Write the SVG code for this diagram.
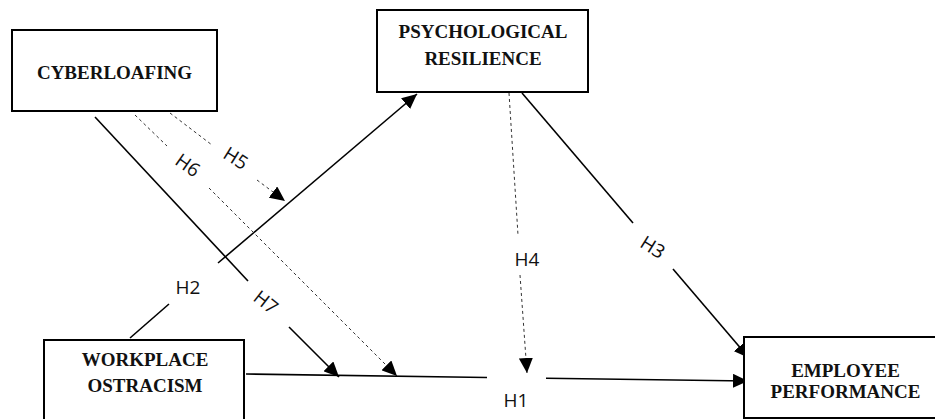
<svg xmlns="http://www.w3.org/2000/svg" width="935" height="419" viewBox="0 0 935 419">
<style>
.box{fill:#fff;stroke:#000;stroke-width:2}
.nt{font-family:"Liberation Serif","Times New Roman",serif;font-weight:bold;font-size:19px;fill:#111;text-anchor:middle}
.sl{stroke:#000;stroke-width:1.6;fill:none}
.dl{stroke:#333;stroke-width:1;stroke-dasharray:3,3;fill:none}
.lb{font-family:"Open Sans","DejaVu Sans",sans-serif;font-size:19px;fill:#111;text-anchor:middle;dominant-baseline:central}
</style>
<defs>
<marker id="ah" markerUnits="userSpaceOnUse" markerWidth="16" markerHeight="14" refX="15" refY="7" orient="auto">
<path d="M0,0 L15,7 L0,14 Z" fill="#000"/>
</marker>
</defs>
<rect width="935" height="419" fill="#fff"/>
<g id="connectors">
<!-- H1 -->
<line class="sl" x1="246" y1="374" x2="487" y2="377.5"/>
<line class="sl" x1="546" y1="378.3" x2="748" y2="381" marker-end="url(#ah)"/>
<text class="lb" x="516" y="400">H1</text>
<!-- H2 -->
<line class="sl" x1="130" y1="338" x2="169" y2="304"/>
<line class="sl" x1="218" y1="263" x2="417" y2="94" marker-end="url(#ah)"/>
<text class="lb" x="188" y="287">H2</text>
<!-- H3 -->
<line class="sl" x1="522" y1="93" x2="633" y2="223"/>
<line class="sl" x1="673" y1="269" x2="749" y2="358" marker-end="url(#ah)"/>
<text class="lb" transform="translate(653,247) rotate(32)">H3</text>
<!-- H4 -->
<line class="dl" x1="509" y1="93" x2="518" y2="235"/>
<line class="dl" x1="520" y1="275" x2="527" y2="373" marker-end="url(#ah)"/>
<text class="lb" x="527" y="259">H4</text>
<!-- H5 -->
<line class="dl" x1="170" y1="113" x2="212" y2="145"/>
<line class="dl" x1="257" y1="180" x2="285" y2="201" marker-end="url(#ah)"/>
<text class="lb" transform="translate(236,158) rotate(32)">H5</text>
<!-- H6 -->
<line class="dl" x1="135" y1="115" x2="167" y2="146"/>
<line class="dl" x1="209" y1="188" x2="397" y2="376" marker-end="url(#ah)"/>
<text class="lb" transform="translate(188,165) rotate(35)">H6</text>
<!-- H7 -->
<line class="sl" x1="95" y1="117" x2="248" y2="281"/>
<line class="sl" x1="289" y1="327" x2="339" y2="377" marker-end="url(#ah)"/>
<text class="lb" transform="translate(266,302) rotate(38)">H7</text>
</g>
<g id="cyberloafing">
<rect class="box" x="12" y="30" width="205" height="81"/>
<text class="nt" x="114.5" y="79">CYBERLOAFING</text>
</g>
<g id="psychological-resilience">
<rect class="box" x="377" y="10" width="211" height="82"/>
<text class="nt" x="483" y="38">PSYCHOLOGICAL</text>
<text class="nt" x="483" y="65">RESILIENCE</text>
</g>
<g id="workplace-ostracism">
<rect class="box" x="44" y="340" width="200" height="90"/>
<text class="nt" x="145" y="366">WORKPLACE</text>
<text class="nt" x="145" y="392">OSTRACISM</text>
</g>
<g id="employee-performance">
<rect class="box" x="744" y="337" width="204" height="81"/>
<text class="nt" x="845.5" y="377">EMPLOYEE</text>
<text class="nt" x="845.5" y="398">PERFORMANCE</text>
</g>
</svg>
